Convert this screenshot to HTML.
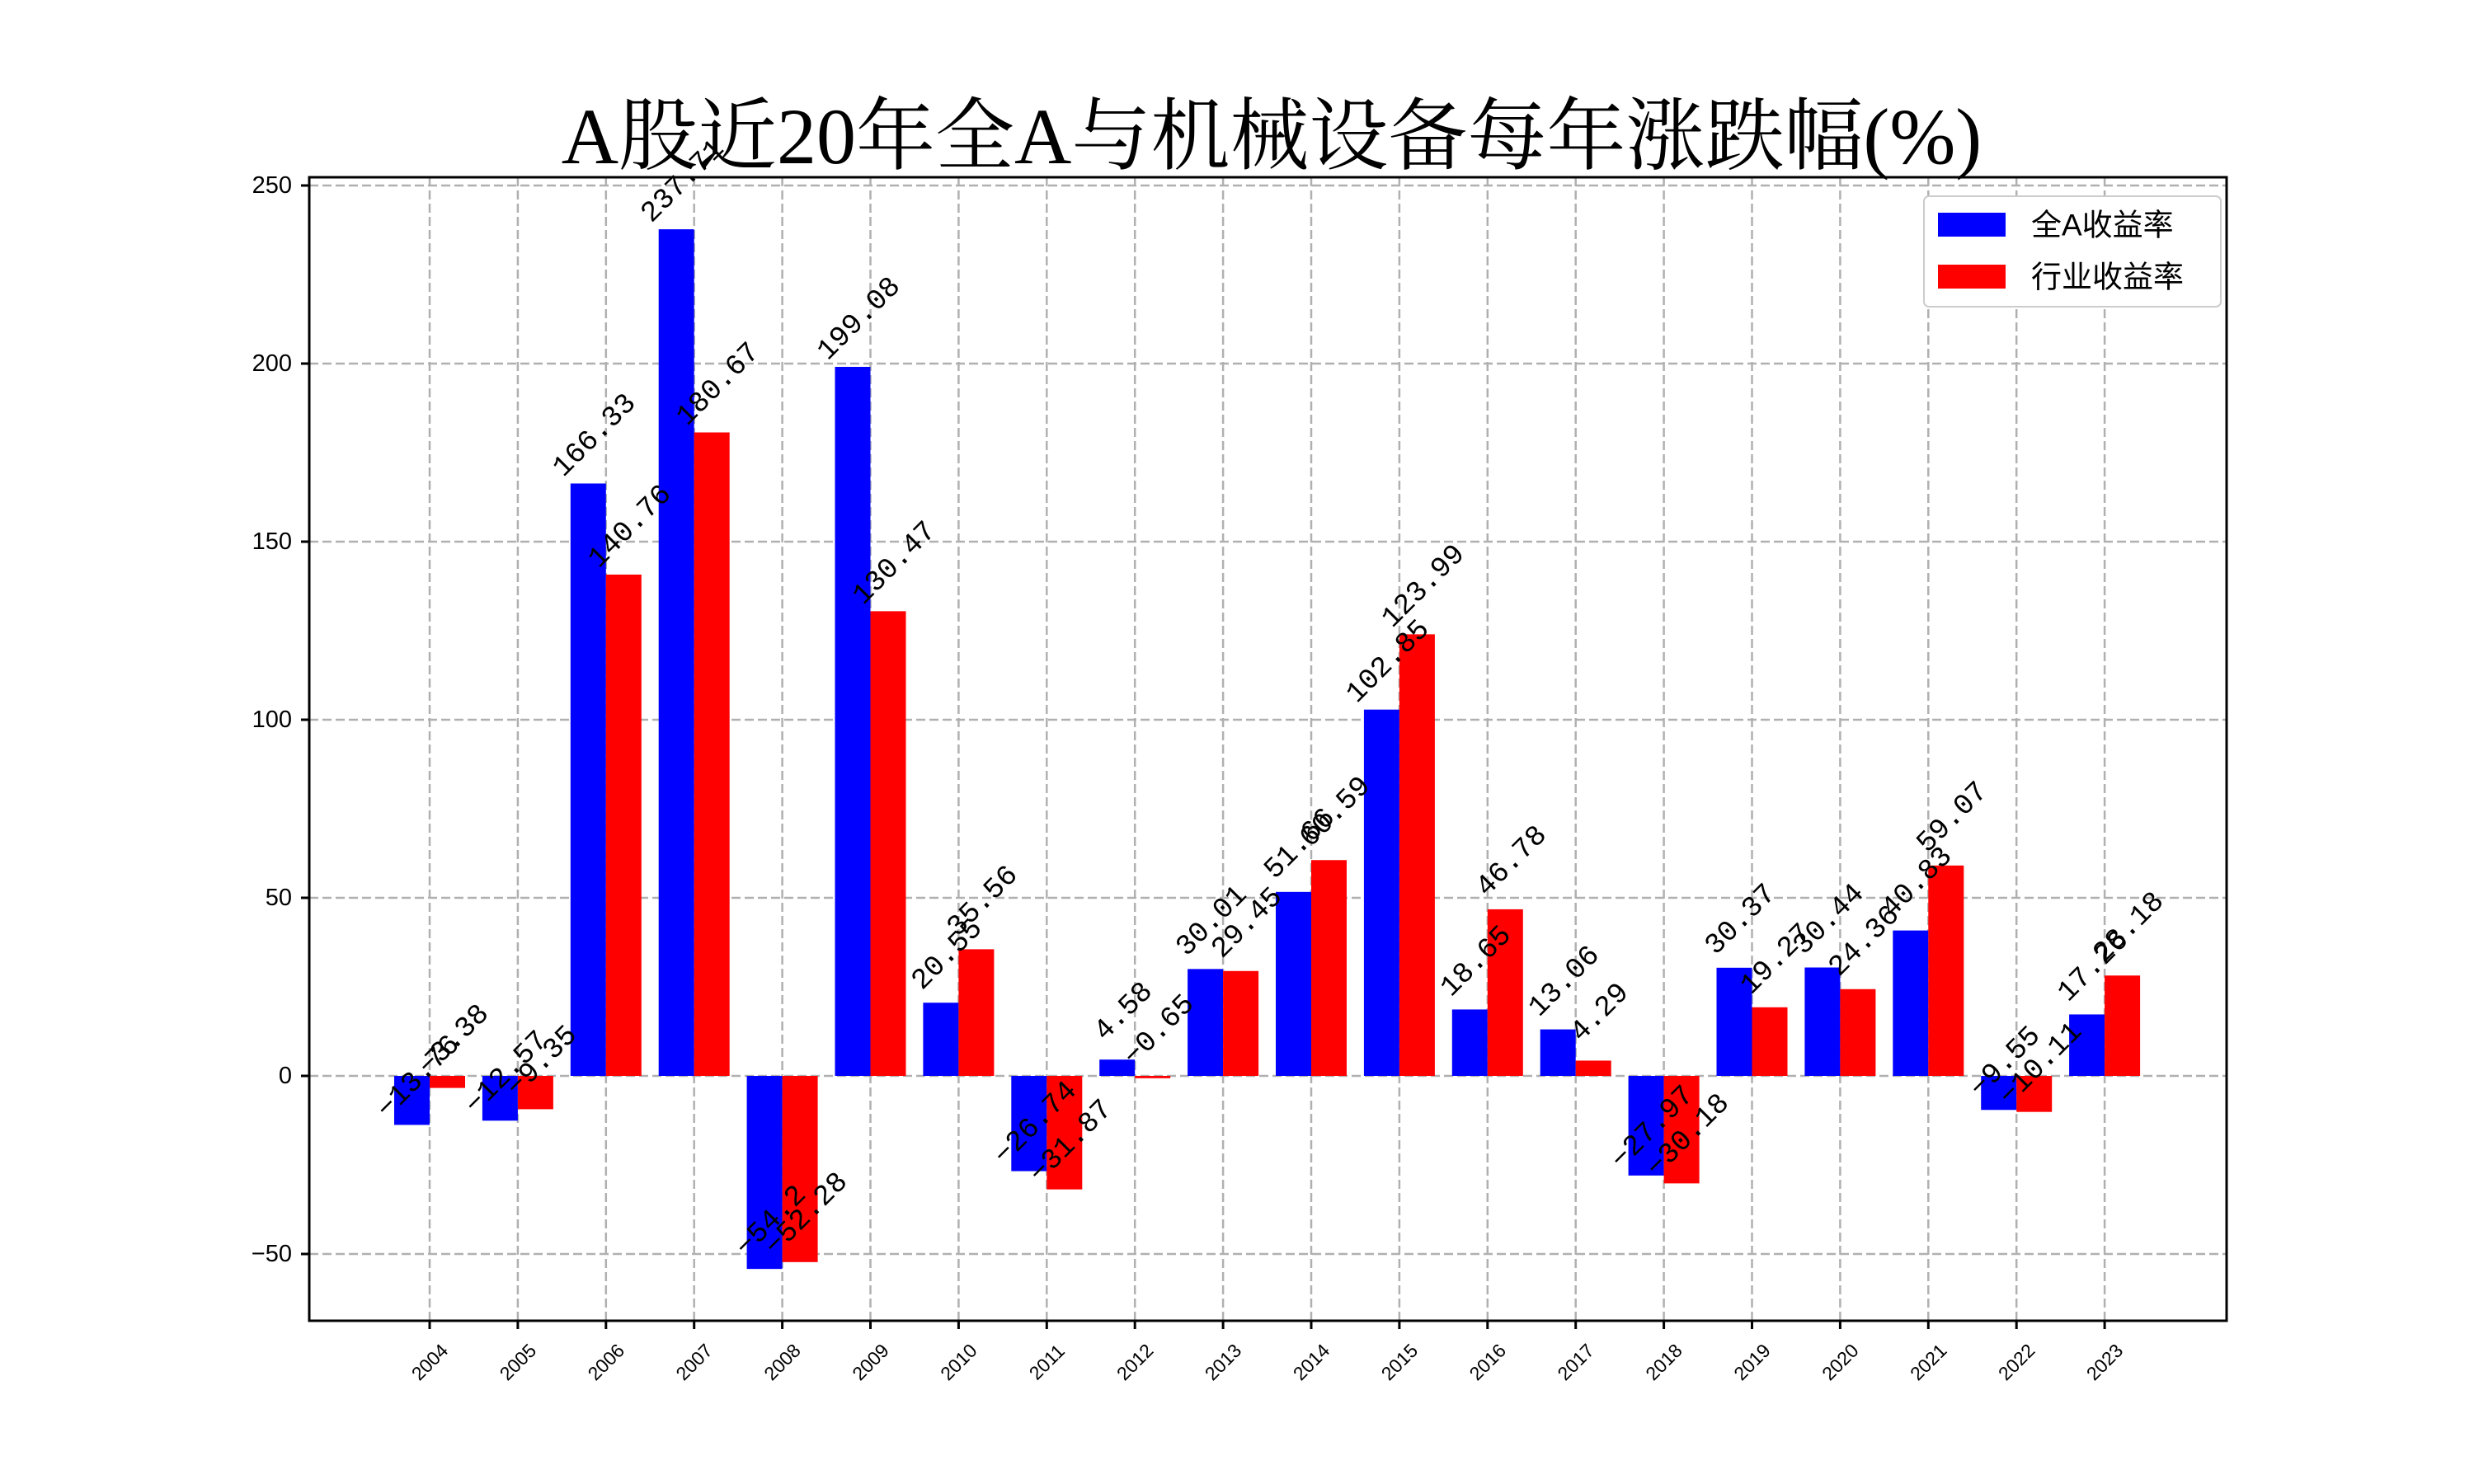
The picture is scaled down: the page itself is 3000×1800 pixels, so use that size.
<!DOCTYPE html>
<html><head><meta charset="utf-8"><style>
html,body{margin:0;padding:0;background:#fff;}
svg{display:block;}
.v{font-family:"Liberation Mono","Noto Sans CJK SC",monospace;font-size:35px;fill:#000;}
.t{font-family:"Liberation Sans","Noto Sans CJK SC",sans-serif;font-size:29px;fill:#000;}
.x{font-family:"Liberation Sans","Noto Sans CJK SC",sans-serif;font-size:23px;fill:#000;}
</style></head><body>
<svg width="3000" height="1800" viewBox="0 0 3000 1800" xmlns="http://www.w3.org/2000/svg">
<rect width="3000" height="1800" fill="#fff"/>
<text x="1542" y="198" text-anchor="middle" font-family="'Liberation Serif','Noto Serif CJK SC',serif" font-size="96">A股近20年全A与机械设备每年涨跌幅(%)</text>
<!-- grid -->
<g stroke="#b0b0b0" stroke-width="2.5" stroke-dasharray="11 5">
<line x1="375" x2="2700" y1="225" y2="225"/><line x1="375" x2="2700" y1="441" y2="441"/><line x1="375" x2="2700" y1="657" y2="657"/><line x1="375" x2="2700" y1="873" y2="873"/><line x1="375" x2="2700" y1="1089" y2="1089"/><line x1="375" x2="2700" y1="1305" y2="1305"/><line x1="375" x2="2700" y1="1521" y2="1521"/>
<line y1="215" y2="1602" x1="521" x2="521"/><line y1="215" y2="1602" x1="627.9" x2="627.9"/><line y1="215" y2="1602" x1="734.8" x2="734.8"/><line y1="215" y2="1602" x1="841.7" x2="841.7"/><line y1="215" y2="1602" x1="948.6" x2="948.6"/><line y1="215" y2="1602" x1="1055.5" x2="1055.5"/><line y1="215" y2="1602" x1="1162.4" x2="1162.4"/><line y1="215" y2="1602" x1="1269.3" x2="1269.3"/><line y1="215" y2="1602" x1="1376.2" x2="1376.2"/><line y1="215" y2="1602" x1="1483.1" x2="1483.1"/><line y1="215" y2="1602" x1="1590" x2="1590"/><line y1="215" y2="1602" x1="1696.9" x2="1696.9"/><line y1="215" y2="1602" x1="1803.8" x2="1803.8"/><line y1="215" y2="1602" x1="1910.7" x2="1910.7"/><line y1="215" y2="1602" x1="2017.6" x2="2017.6"/><line y1="215" y2="1602" x1="2124.5" x2="2124.5"/><line y1="215" y2="1602" x1="2231.4" x2="2231.4"/><line y1="215" y2="1602" x1="2338.3" x2="2338.3"/><line y1="215" y2="1602" x1="2445.2" x2="2445.2"/><line y1="215" y2="1602" x1="2552.1" x2="2552.1"/>
</g>
<!-- bars -->
<g transform="translate(0,1305) scale(1,-4.32)">
<g fill="#0000ff">
<rect x="478" width="43" y="-13.76" height="13.76"/>
<rect x="584.9" width="43" y="-12.57" height="12.57"/>
<rect x="691.8" width="43" y="0" height="166.33"/>
<rect x="798.7" width="43" y="0" height="237.71"/>
<rect x="905.6" width="43" y="-54.2" height="54.2"/>
<rect x="1012.5" width="43" y="0" height="199.08"/>
<rect x="1119.4" width="43" y="0" height="20.55"/>
<rect x="1226.3" width="43" y="-26.74" height="26.74"/>
<rect x="1333.2" width="43" y="0" height="4.58"/>
<rect x="1440.1" width="43" y="0" height="30.01"/>
<rect x="1547" width="43" y="0" height="51.66"/>
<rect x="1653.9" width="43" y="0" height="102.85"/>
<rect x="1760.8" width="43" y="0" height="18.65"/>
<rect x="1867.7" width="43" y="0" height="13.06"/>
<rect x="1974.6" width="43" y="-27.97" height="27.97"/>
<rect x="2081.5" width="43" y="0" height="30.37"/>
<rect x="2188.4" width="43" y="0" height="30.44"/>
<rect x="2295.3" width="43" y="0" height="40.83"/>
<rect x="2402.2" width="43" y="-9.55" height="9.55"/>
<rect x="2509.1" width="43" y="0" height="17.26"/>
</g>
<g fill="#ff0000">
<rect x="521" width="43" y="-3.38" height="3.38"/>
<rect x="627.9" width="43" y="-9.35" height="9.35"/>
<rect x="734.8" width="43" y="0" height="140.76"/>
<rect x="841.7" width="43" y="0" height="180.67"/>
<rect x="948.6" width="43" y="-52.28" height="52.28"/>
<rect x="1055.5" width="43" y="0" height="130.47"/>
<rect x="1162.4" width="43" y="0" height="35.56"/>
<rect x="1269.3" width="43" y="-31.87" height="31.87"/>
<rect x="1376.2" width="43" y="-0.65" height="0.65"/>
<rect x="1483.1" width="43" y="0" height="29.45"/>
<rect x="1590" width="43" y="0" height="60.59"/>
<rect x="1696.9" width="43" y="0" height="123.99"/>
<rect x="1803.8" width="43" y="0" height="46.78"/>
<rect x="1910.7" width="43" y="0" height="4.29"/>
<rect x="2017.6" width="43" y="-30.18" height="30.18"/>
<rect x="2124.5" width="43" y="0" height="19.27"/>
<rect x="2231.4" width="43" y="0" height="24.36"/>
<rect x="2338.3" width="43" y="0" height="59.07"/>
<rect x="2445.2" width="43" y="-10.11" height="10.11"/>
<rect x="2552.1" width="43" y="0" height="28.18"/>
</g>
</g>
<!-- value labels -->
<g class="v" text-anchor="middle" dominant-baseline="central" transform="translate(8,-18)">
<text transform="translate(499.5,1324.4) rotate(-45)">−13.76</text>
<text transform="translate(606.4,1319.3) rotate(-45)">−12.57</text>
<text transform="translate(713.3,546.5) rotate(-45)">166.33</text>
<text transform="translate(820.2,238.1) rotate(-45)">237.71</text>
<text transform="translate(927.1,1499.1) rotate(-45)">−54.2</text>
<text transform="translate(1034,405) rotate(-45)">199.08</text>
<text transform="translate(1140.9,1176.2) rotate(-45)">20.55</text>
<text transform="translate(1247.8,1380.5) rotate(-45)">−26.74</text>
<text transform="translate(1354.7,1245.2) rotate(-45)">4.58</text>
<text transform="translate(1461.6,1135.4) rotate(-45)">30.01</text>
<text transform="translate(1568.5,1041.8) rotate(-45)">51.66</text>
<text transform="translate(1675.4,820.7) rotate(-45)">102.85</text>
<text transform="translate(1782.3,1184.4) rotate(-45)">18.65</text>
<text transform="translate(1889.2,1208.6) rotate(-45)">13.06</text>
<text transform="translate(1996.1,1385.8) rotate(-45)">−27.97</text>
<text transform="translate(2103,1133.8) rotate(-45)">30.37</text>
<text transform="translate(2209.9,1133.5) rotate(-45)">30.44</text>
<text transform="translate(2316.8,1088.6) rotate(-45)">40.83</text>
<text transform="translate(2423.7,1306.3) rotate(-45)">−9.55</text>
<text transform="translate(2530.6,1190.4) rotate(-45)">17.26</text>
<text transform="translate(542.5,1279.6) rotate(-45)">−3.38</text>
<text transform="translate(649.4,1305.4) rotate(-45)">−9.35</text>
<text transform="translate(756.3,656.9) rotate(-45)">140.76</text>
<text transform="translate(863.2,484.5) rotate(-45)">180.67</text>
<text transform="translate(970.1,1490.8) rotate(-45)">−52.28</text>
<text transform="translate(1077,701.4) rotate(-45)">130.47</text>
<text transform="translate(1183.9,1111.4) rotate(-45)">35.56</text>
<text transform="translate(1290.8,1402.7) rotate(-45)">−31.87</text>
<text transform="translate(1397.7,1267.8) rotate(-45)">−0.65</text>
<text transform="translate(1504.6,1137.8) rotate(-45)">29.45</text>
<text transform="translate(1611.5,1003.3) rotate(-45)">60.59</text>
<text transform="translate(1718.4,729.4) rotate(-45)">123.99</text>
<text transform="translate(1825.3,1062.9) rotate(-45)">46.78</text>
<text transform="translate(1932.2,1246.5) rotate(-45)">4.29</text>
<text transform="translate(2039.1,1395.4) rotate(-45)">−30.18</text>
<text transform="translate(2146,1181.8) rotate(-45)">19.27</text>
<text transform="translate(2252.9,1159.8) rotate(-45)">24.36</text>
<text transform="translate(2359.8,1009.8) rotate(-45)">59.07</text>
<text transform="translate(2466.7,1308.7) rotate(-45)">−10.11</text>
<text transform="translate(2573.6,1143.3) rotate(-45)">28.18</text>
</g>
<!-- axes frame -->
<rect x="375" y="215" width="2325" height="1387" fill="none" stroke="#000" stroke-width="3"/>
<!-- ticks -->
<g stroke="#000" stroke-width="3">
<line x1="365" x2="375" y1="225" y2="225"/><line x1="365" x2="375" y1="441" y2="441"/><line x1="365" x2="375" y1="657" y2="657"/><line x1="365" x2="375" y1="873" y2="873"/><line x1="365" x2="375" y1="1089" y2="1089"/><line x1="365" x2="375" y1="1305" y2="1305"/><line x1="365" x2="375" y1="1521" y2="1521"/>
<line y1="1602" y2="1612" x1="521" x2="521"/><line y1="1602" y2="1612" x1="627.9" x2="627.9"/><line y1="1602" y2="1612" x1="734.8" x2="734.8"/><line y1="1602" y2="1612" x1="841.7" x2="841.7"/><line y1="1602" y2="1612" x1="948.6" x2="948.6"/><line y1="1602" y2="1612" x1="1055.5" x2="1055.5"/><line y1="1602" y2="1612" x1="1162.4" x2="1162.4"/><line y1="1602" y2="1612" x1="1269.3" x2="1269.3"/><line y1="1602" y2="1612" x1="1376.2" x2="1376.2"/><line y1="1602" y2="1612" x1="1483.1" x2="1483.1"/><line y1="1602" y2="1612" x1="1590" x2="1590"/><line y1="1602" y2="1612" x1="1696.9" x2="1696.9"/><line y1="1602" y2="1612" x1="1803.8" x2="1803.8"/><line y1="1602" y2="1612" x1="1910.7" x2="1910.7"/><line y1="1602" y2="1612" x1="2017.6" x2="2017.6"/><line y1="1602" y2="1612" x1="2124.5" x2="2124.5"/><line y1="1602" y2="1612" x1="2231.4" x2="2231.4"/><line y1="1602" y2="1612" x1="2338.3" x2="2338.3"/><line y1="1602" y2="1612" x1="2445.2" x2="2445.2"/><line y1="1602" y2="1612" x1="2552.1" x2="2552.1"/>
</g>
<g class="t" text-anchor="end" dominant-baseline="central">
<text x="354" y="225">250</text><text x="354" y="441">200</text><text x="354" y="657">150</text><text x="354" y="873">100</text><text x="354" y="1089">50</text><text x="354" y="1305">0</text><text x="354" y="1521">−50</text>
</g>
<g class="x" text-anchor="middle" dominant-baseline="central">
<text transform="translate(521,1652) rotate(-45)">2004</text>
<text transform="translate(627.9,1652) rotate(-45)">2005</text>
<text transform="translate(734.8,1652) rotate(-45)">2006</text>
<text transform="translate(841.7,1652) rotate(-45)">2007</text>
<text transform="translate(948.6,1652) rotate(-45)">2008</text>
<text transform="translate(1055.5,1652) rotate(-45)">2009</text>
<text transform="translate(1162.4,1652) rotate(-45)">2010</text>
<text transform="translate(1269.3,1652) rotate(-45)">2011</text>
<text transform="translate(1376.2,1652) rotate(-45)">2012</text>
<text transform="translate(1483.1,1652) rotate(-45)">2013</text>
<text transform="translate(1590,1652) rotate(-45)">2014</text>
<text transform="translate(1696.9,1652) rotate(-45)">2015</text>
<text transform="translate(1803.8,1652) rotate(-45)">2016</text>
<text transform="translate(1910.7,1652) rotate(-45)">2017</text>
<text transform="translate(2017.6,1652) rotate(-45)">2018</text>
<text transform="translate(2124.5,1652) rotate(-45)">2019</text>
<text transform="translate(2231.4,1652) rotate(-45)">2020</text>
<text transform="translate(2338.3,1652) rotate(-45)">2021</text>
<text transform="translate(2445.2,1652) rotate(-45)">2022</text>
<text transform="translate(2552.1,1652) rotate(-45)">2023</text>
</g>
<!-- legend -->
<rect x="2333" y="238" width="360" height="134" rx="6" fill="#fff" stroke="#cccccc" stroke-width="2"/>
<rect x="2350" y="258" width="82" height="29" fill="#0000ff"/>
<rect x="2350" y="321" width="82" height="29" fill="#ff0000"/>
<g font-family="'Liberation Sans','Noto Sans CJK SC',sans-serif" font-size="37" dominant-baseline="central">
<text x="2463" y="273">全A收益率</text>
<text x="2463" y="336">行业收益率</text>
</g>
</svg>
</body></html>
